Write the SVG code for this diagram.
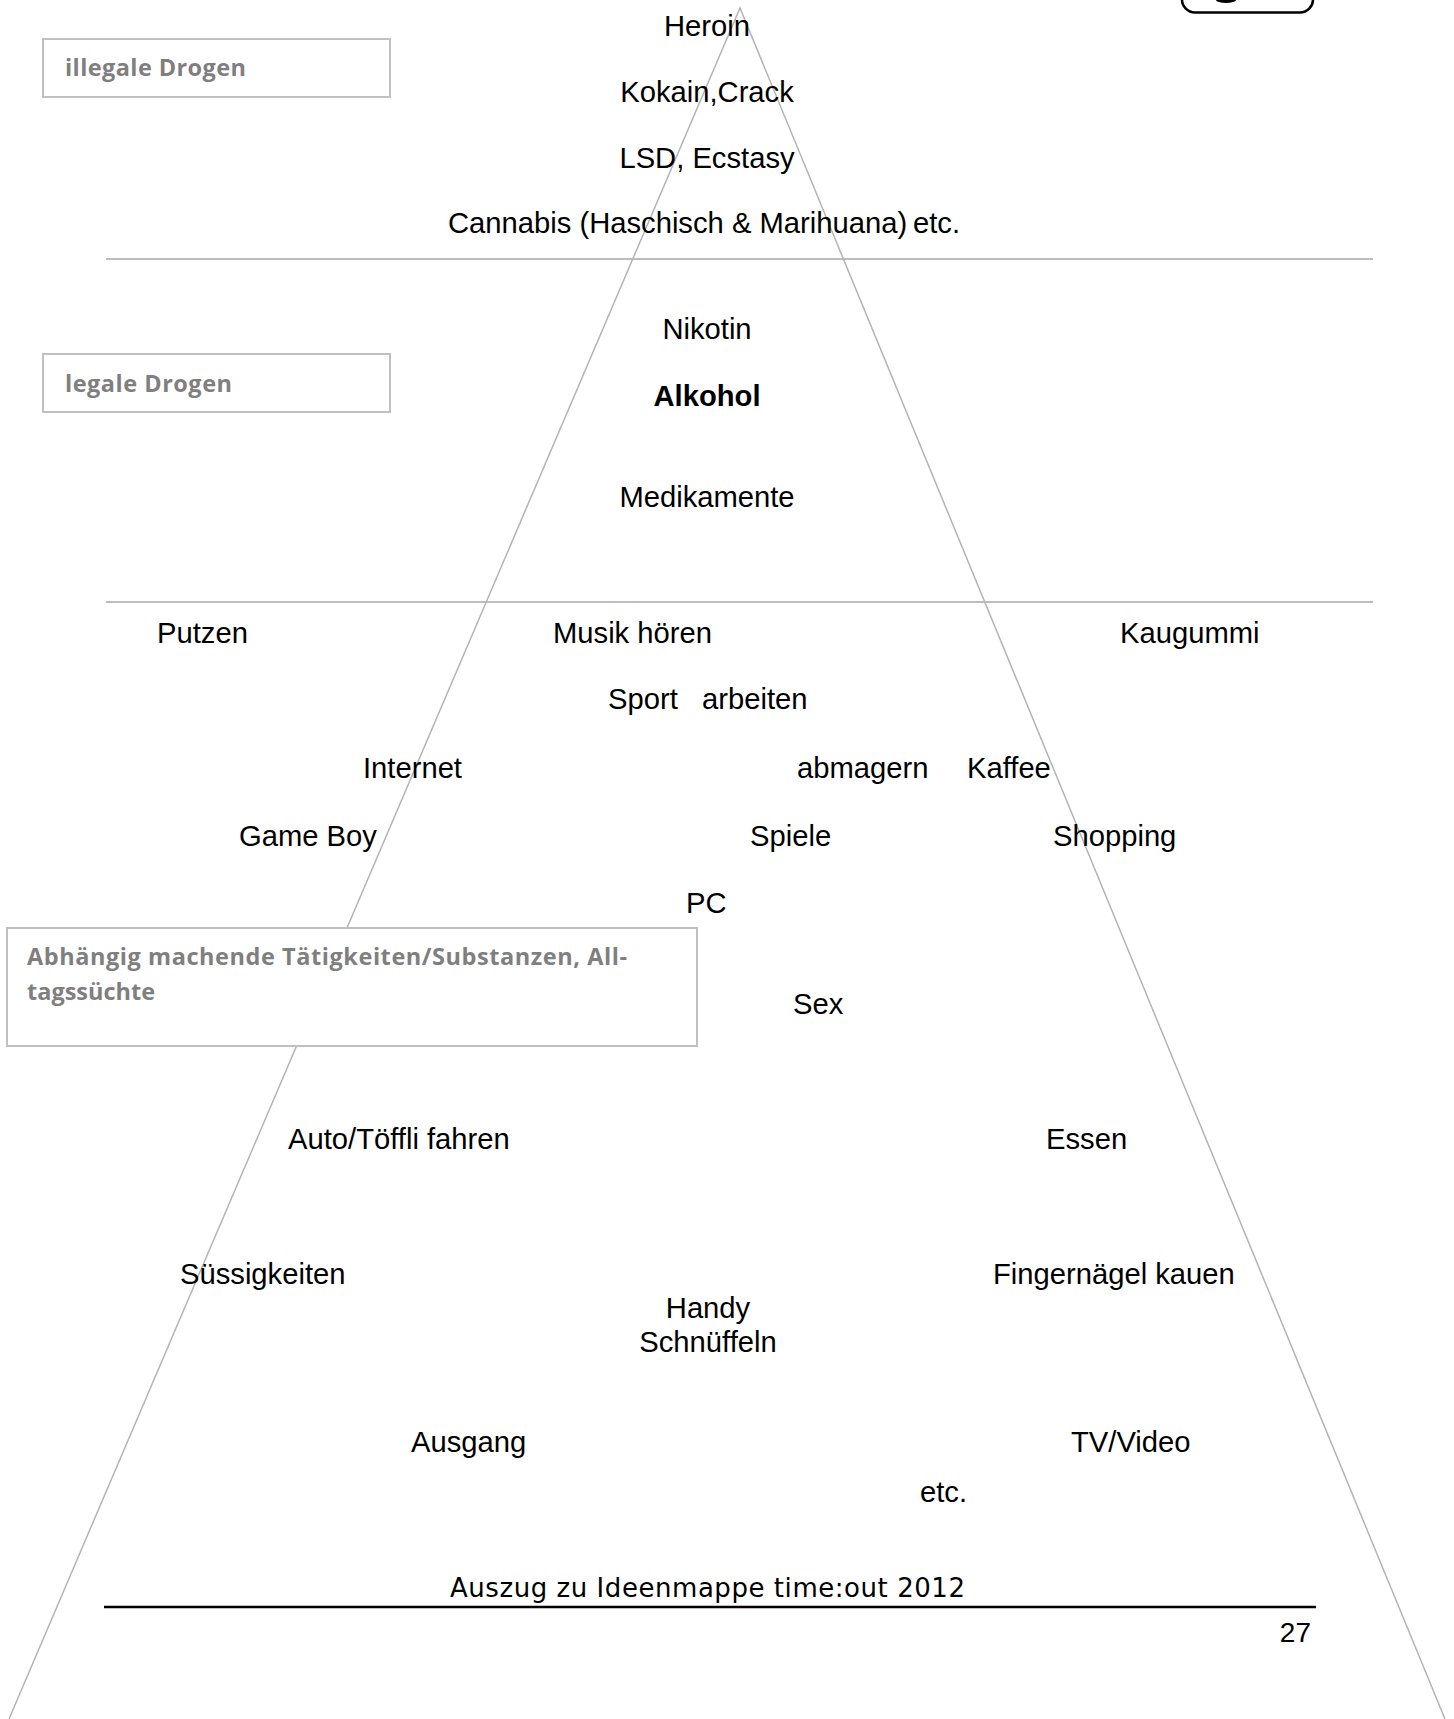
<svg xmlns="http://www.w3.org/2000/svg" width="1454" height="1719" viewBox="0 0 1454 1719">
<style>
.t{font-family:"Liberation Sans",Arial,sans-serif;font-size:29.2px;fill:#000}
.b{font-weight:bold}
.lbl{font-family:"Open Sans","Noto Sans",sans-serif;font-weight:700;font-size:23.5px;fill:#7f7f7f}
.box{fill:#fff;stroke:#c0c0c0;stroke-width:2}
.sep{stroke:#bdbdbd;stroke-width:2}
.tri{stroke:#b4b4b4;stroke-width:1.5;fill:none}
</style>
<rect width="1454" height="1719" fill="#fff"/>
<g id="corner-badge">
<rect x="1182" y="-40" width="131" height="52.5" rx="13" fill="#fff" stroke="#000" stroke-width="2.5"/>
<ellipse cx="1226" cy="0" rx="10" ry="3" fill="#000"/>
</g>
<g id="connectors">
<line class="sep" x1="106" y1="259" x2="1373" y2="259"/>
<line class="sep" x1="106" y1="602" x2="1373" y2="602"/>
<polyline class="tri" points="9,1719 740,8 1445,1719"/>
</g>
<g id="illegal-items">
<text class="t" x="707" y="36" text-anchor="middle">Heroin</text>
<text class="t" x="707" y="102" text-anchor="middle">Kokain,Crack</text>
<text class="t" x="707" y="168" text-anchor="middle">LSD, Ecstasy</text>
<text class="t" x="448" y="233">Cannabis (Haschisch &amp; Marihuana)</text>
<text class="t" x="913" y="233">etc.</text>
</g>
<g id="legal-items">
<text class="t" x="707" y="339" text-anchor="middle">Nikotin</text>
<text class="t b" x="707" y="406" text-anchor="middle">Alkohol</text>
<text class="t" x="707" y="507" text-anchor="middle">Medikamente</text>
</g>
<g id="everyday-items">
<text class="t" x="157" y="643">Putzen</text>
<text class="t" x="553" y="643">Musik hören</text>
<text class="t" x="1120" y="643">Kaugummi</text>
<text class="t" x="608" y="709">Sport</text>
<text class="t" x="702" y="709">arbeiten</text>
<text class="t" x="363" y="778">Internet</text>
<text class="t" x="797" y="778">abmagern</text>
<text class="t" x="967" y="778">Kaffee</text>
<text class="t" x="239" y="846">Game Boy</text>
<text class="t" x="750" y="846">Spiele</text>
<text class="t" x="1053" y="846">Shopping</text>
<text class="t" x="686" y="913">PC</text>
<text class="t" x="793" y="1014">Sex</text>
<text class="t" x="288" y="1149">Auto/Töffli fahren</text>
<text class="t" x="1046" y="1149">Essen</text>
<text class="t" x="180" y="1284">Süssigkeiten</text>
<text class="t" x="993" y="1284">Fingernägel kauen</text>
<text class="t" x="708" y="1318" text-anchor="middle">Handy</text>
<text class="t" x="708" y="1352" text-anchor="middle">Schnüffeln</text>
<text class="t" x="411" y="1452">Ausgang</text>
<text class="t" x="1071" y="1452">TV/Video</text>
<text class="t" x="920" y="1502">etc.</text>
</g>
<g id="label-illegal">
<rect class="box" x="43" y="39" width="347" height="58"/>
<text class="lbl" x="65" y="76" textLength="181">illegale Drogen</text>
</g>
<g id="label-legal">
<rect class="box" x="43" y="354" width="347" height="58"/>
<text class="lbl" x="65" y="392" textLength="167">legale Drogen</text>
</g>
<g id="label-everyday">
<rect class="box" x="7" y="928" width="690" height="118"/>
<text class="lbl" x="27" y="965" textLength="600">Abhängig machende Tätigkeiten/Substanzen, All-</text>
<text class="lbl" x="27" y="1000">tagssüchte</text>
</g>
<g id="footer">
<text x="450" y="1597" textLength="515" font-family="'DejaVu Sans',Verdana,sans-serif" font-size="26" fill="#000">Auszug zu Ideenmappe time:out 2012</text>
<line x1="104" y1="1607" x2="1316" y2="1607" stroke="#000" stroke-width="2.5"/>
<text x="1311" y="1642" text-anchor="end" font-family="'Liberation Sans',Arial,sans-serif" font-size="28" fill="#000">27</text>
</g>
</svg>
